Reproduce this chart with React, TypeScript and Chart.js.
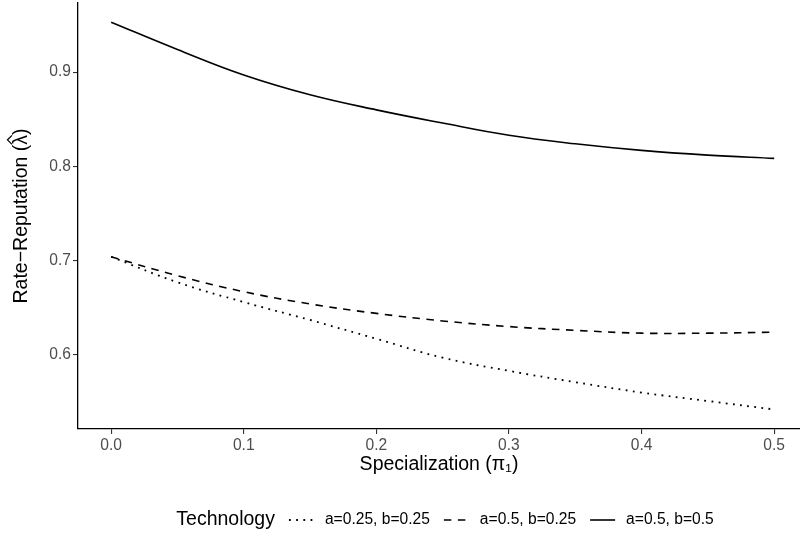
import React, { useEffect, useRef } from "react";
import { Chart, registerables } from "chart.js";

Chart.register(...registerables);

// ---- data ----
const xValues = [0, 0.05, 0.1, 0.15, 0.2, 0.25, 0.3, 0.35, 0.4, 0.45, 0.5];
const dottedValues = [0.704, 0.677, 0.656, 0.637, 0.617, 0.597, 0.583, 0.571, 0.56, 0.551, 0.542];
const dashedValues = [0.704, 0.684, 0.667, 0.654, 0.644, 0.636, 0.63, 0.626, 0.623, 0.623, 0.624];
const solidValues = [0.953, 0.924, 0.897, 0.876, 0.86, 0.846, 0.833, 0.824, 0.817, 0.812, 0.8085];
const seriesLabels = ["a=0.25, b=0.25", "a=0.5, b=0.25", "a=0.5, b=0.5"];
const xTicks = [0, 0.1, 0.2, 0.3, 0.4, 0.5];
const yTicks = [0.6, 0.7, 0.8, 0.9];
const legendTitle = "Technology";
const xTitle = "Specialization (\u03c0\u2081)";
const yTitleParts = ["Rate\u2212Reputation (", "\u03bb", ")"];

const FONT = "'Liberation Sans', Arial, Helvetica, sans-serif";
const TICK_SIZE = 15.6;
const TITLE_SIZE = 19.5;

const legendPlugin = {
  id: "inlineLegend",
  afterDraw(chart: any) {
    const ctx = chart.ctx as CanvasRenderingContext2D;
    const datasets = chart.data.datasets;
    const y = 520;
    const sampleLen = 25;
    const gapTitle = 14;
    const gapSampleText = 11;
    const gapItem = 14;
    ctx.save();
    ctx.font = `${TITLE_SIZE}px ${FONT}`;
    const titleW = ctx.measureText(legendTitle).width;
    ctx.font = `${TICK_SIZE}px ${FONT}`;
    const textWs = datasets.map((d: any) => ctx.measureText(d.label).width);
    let total = titleW + gapTitle;
    textWs.forEach((w: number, i: number) => {
      total += sampleLen + gapSampleText + w + (i < textWs.length - 1 ? gapItem : 0);
    });
    let x = 445 - total / 2;
    ctx.textBaseline = "middle";
    ctx.textAlign = "left";
    ctx.fillStyle = "#000";
    ctx.font = `${TITLE_SIZE}px ${FONT}`;
    ctx.fillText(legendTitle, x, y);
    x += titleW + gapTitle;
    datasets.forEach((d: any, i: number) => {
      ctx.beginPath();
      ctx.setLineDash(d.borderDash || []);
      ctx.lineWidth = d.borderWidth;
      ctx.strokeStyle = d.borderColor;
      ctx.moveTo(x, y);
      ctx.lineTo(x + sampleLen, y);
      ctx.stroke();
      ctx.setLineDash([]);
      x += sampleLen + gapSampleText;
      ctx.font = `${TICK_SIZE}px ${FONT}`;
      ctx.fillStyle = "#000";
      ctx.fillText(d.label, x, y);
      x += textWs[i] + gapItem;
    });
    ctx.restore();
  },
};

const yTitlePlugin = {
  id: "yTitleHat",
  afterDraw(chart: any) {
    const ctx = chart.ctx as CanvasRenderingContext2D;
    const area = chart.chartArea;
    const cy = (area.top + area.bottom) / 2;
    const cx = 22;
    ctx.save();
    ctx.translate(cx, cy);
    ctx.rotate(-Math.PI / 2);
    ctx.font = `${TITLE_SIZE}px ${FONT}`;
    ctx.fillStyle = "#000";
    ctx.textBaseline = "middle";
    ctx.textAlign = "left";
    const full = yTitleParts.join("");
    const totalW = ctx.measureText(full).width;
    const w0 = ctx.measureText(yTitleParts[0]).width;
    const w1 = ctx.measureText(yTitleParts[1]).width;
    const start = -totalW / 2;
    ctx.fillText(full, start, 0);
    // circumflex over lambda
    const hx = start + w0 + w1 / 2;
    ctx.beginPath();
    ctx.strokeStyle = "#000";
    ctx.lineWidth = 1.3;
    ctx.moveTo(hx - 4.5, -10);
    ctx.lineTo(hx, -14.5);
    ctx.lineTo(hx + 4.5, -10);
    ctx.stroke();
    ctx.restore();
  },
};

export default function App() {
  const canvasRef = useRef<HTMLCanvasElement | null>(null);

  useEffect(() => {
    document.body.style.margin = "0";
    const canvas = canvasRef.current;
    if (!canvas) return;
    const mk = (vals: number[]) => xValues.map((x, i) => ({ x, y: vals[i] }));
    const common = {
      borderColor: "#000000",
      borderWidth: 1.6,
      pointRadius: 0,
      fill: false,
      tension: 0.4,
    };
    const chart = new Chart(canvas, {
      type: "line",
      data: {
        datasets: [
          { ...common, label: seriesLabels[0], data: mk(dottedValues), borderDash: [1.8, 5.4], borderWidth: 1.8 },
          { ...common, label: seriesLabels[1], data: mk(dashedValues), borderDash: [7.5, 6.5] },
          { ...common, label: seriesLabels[2], data: mk(solidValues), borderDash: [] },
        ],
      },
      options: {
        responsive: false,
        maintainAspectRatio: false,
        animation: false,
        layout: { padding: { top: 3, bottom: 68, left: 0, right: 0 } },
        plugins: {
          legend: { display: false },
          tooltip: { enabled: false },
        },
        scales: {
          x: {
            type: "linear",
            min: -0.025,
            max: 0.5195,
            afterBuildTicks: (s: any) => {
              s.ticks = xTicks.map((v) => ({ value: v }));
            },
            afterFit: (s: any) => {
              s.height = 47;
              s.paddingLeft = 0;
              s.paddingRight = 0;
            },
            ticks: {
              autoSkip: false,
              maxRotation: 0,
              color: "#4D4D4D",
              padding: 2,
              font: { size: TICK_SIZE, family: FONT },
              callback: (v: any) => Number(v).toFixed(1),
            },
            grid: {
              drawOnChartArea: false,
              drawTicks: true,
              tickLength: 5,
              color: "#333333",
              lineWidth: 1.1,
            },
            border: { display: true, color: "#000000", width: 1.3 },
            title: {
              display: true,
              text: xTitle,
              color: "#000000",
              font: { size: TITLE_SIZE, family: FONT },
              padding: { top: 0, bottom: 0 },
            },
          },
          y: {
            type: "linear",
            min: 0.5213,
            max: 0.9734,
            afterBuildTicks: (s: any) => {
              s.ticks = yTicks.map((v) => ({ value: v }));
            },
            afterFit: (s: any) => {
              s.width = 78;
              s.paddingTop = 0;
              s.paddingBottom = 0;
            },
            ticks: {
              color: "#4D4D4D",
              padding: 2,
              font: { size: TICK_SIZE, family: FONT },
              callback: (v: any) => Number(v).toFixed(1),
            },
            grid: {
              drawOnChartArea: false,
              drawTicks: true,
              tickLength: 5,
              color: "#333333",
              lineWidth: 1.1,
            },
            border: { display: true, color: "#000000", width: 1.3 },
            title: { display: false },
          },
        },
      },
      plugins: [legendPlugin, yTitlePlugin],
    });
    return () => chart.destroy();
  }, []);

  return (
    <div style={{ width: 800, height: 544 }}>
      <canvas ref={canvasRef} width={800} height={544} style={{ display: "block" }} />
    </div>
  );
}
